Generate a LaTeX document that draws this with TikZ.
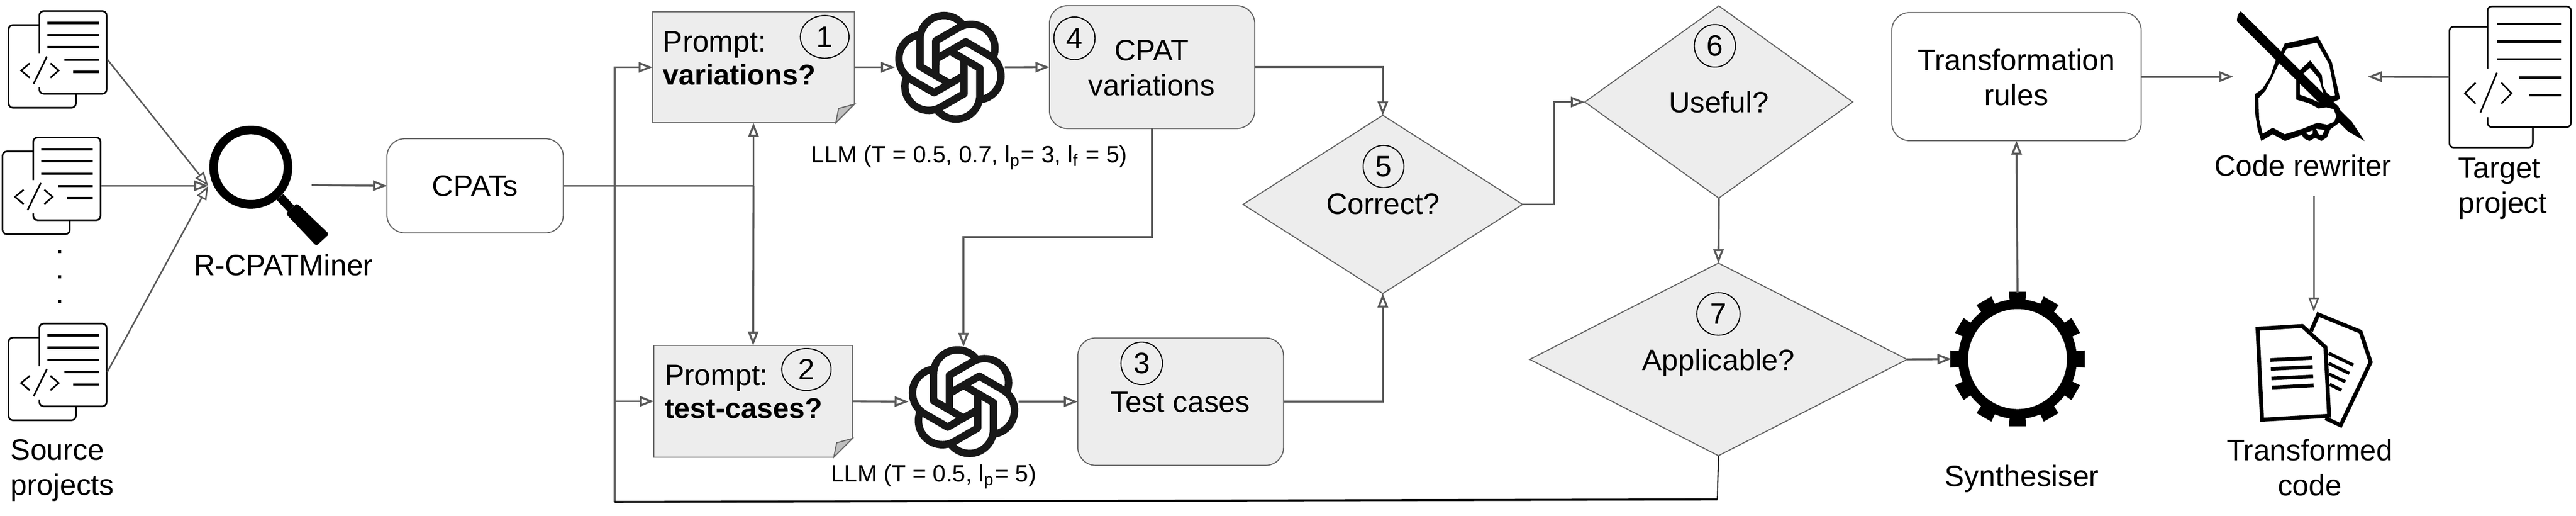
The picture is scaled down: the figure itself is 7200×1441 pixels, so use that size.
\documentclass[tikz,border=0pt]{standalone}
\usepackage{fontspec}
\setmainfont{Liberation Sans}
\usetikzlibrary{calc,arrows.meta,shapes.geometric}

\definecolor{flowgray}{HTML}{595959}
\definecolor{edgegray}{HTML}{666666}
\definecolor{boxgray}{HTML}{EDEDED}
\definecolor{foldgray}{HTML}{BFBFBF}
\definecolor{logoblack}{HTML}{181818}

\newcommand{\promptbold}[1]{{\fontsize{8}{9.7}\selectfont\bfseries #1}}

\tikzset{
  every node/.style={font=\fontsize{8.25}{9.8}\selectfont},
  >={Triangle[fill=white,length=3.9pt,width=2.9pt]},
  flowline/.style={draw=flowgray,line width=0.55pt},
  thinflow/.style={draw=flowgray,line width=0.42pt},
  iconbox/.style={inner sep=0pt,outer sep=0pt},
  lbl/.style={anchor=base,inner sep=0pt,outer sep=0pt,align=center},
  lblleft/.style={anchor=base west,inner sep=0pt,outer sep=0pt,align=left},
  llmlabel/.style={lbl,font=\fontsize{6.6}{8}\selectfont},
  roundbox/.style={rectangle,rounded corners=5pt,draw=edgegray,line width=0.3pt,inner sep=0pt,outer sep=0pt},
  greybox/.style={roundbox,fill=boxgray},
  question/.style={diamond,draw=edgegray,fill=boxgray,line width=0.3pt,inner sep=0pt,outer sep=0pt},
  stepnum/.style={ellipse,draw=black,line width=0.3pt,inner sep=0pt,outer sep=0pt},
  pics/docicon/.style={code={
    \draw[line width=0.45pt,rounded corners=1.2pt] (-51,-96) -- (-137,-96) -- (-137,135) -- (51,135) -- (51,96);
    \draw[line width=0.45pt,rounded corners=1.2pt] (-51,-16) -- (-51,-135) -- (137,-135) -- (137,96) -- (-51,96) -- (-51,77);
    \foreach \y/\x in {-102/-29,-68/-29,-34/-29,1/19,35/43}
      \draw[line width=0.65pt] (\x,\y) -- (115,\y);
    \draw[line width=0.45pt] (-78,11) -- (-102,31) -- (-78,51);
    \draw[line width=0.45pt] (-20,11) -- (3,31) -- (-20,51);
    \draw[line width=0.45pt] (-30,-8) -- (-67,68);
  }},
  pics/llmlogo/.style={code={
    \begin{scope}[y=0.1pt]
    \foreach \a in {0,60,...,300}
      \draw[logoblack,rotate=\a,line width=2.07pt,line join=round] (0,-45.7) -- (-83.7,2.7) -- (-83.7,77.7) arc[start angle=180,end angle=40,radius=67];
    \end{scope}
  }},
  pics/gearicon/.style={code={
    \draw[line width=2.75pt] (0,0) circle[x radius=15.2pt,y radius=15.35pt];
    \foreach \a in {0,30,...,330}
      \fill[rotate=\a] (-21,150) -- (-24,188) -- (24,188) -- (21,150) -- cycle;
  }}
}

\begin{document}
\begin{tikzpicture}[x=0.1pt,y=-0.1pt]
\useasboundingbox (0,0) rectangle (7200,1441);

% source projects
\node[iconbox,minimum width=27.8pt,minimum height=27.4pt] (src1) at (161,166) {};
\node[iconbox,minimum width=27.8pt,minimum height=27.4pt] (src2) at (144,519) {};
\node[iconbox,minimum width=27.8pt,minimum height=27.4pt] (src3) at (161,1039) {};
\foreach \n in {src1,src2,src3}
  \pic at (\n) {docicon};
\foreach \n/\y in {dota/708,dotb/779,dotc/848}
  \node[lbl] (\n) at (168,\y) {.};
\node[lblleft] (srclabel) at (30,1383) {Source\\projects};

% miner
\node[iconbox,circle,draw,line width=2.4pt,minimum size=20.8pt] (miner) at (701,467) {};
\fill (773,558) -- (792,542) -- (822,575) -- (805,592) -- cycle;
\fill[rounded corners=0.6pt] (799,597) -- (830,568) -- (920,654) -- (884,687) -- cycle;
\node[lbl] (minerlabel) at (792,770) {R-CPATMiner};
\coordinate (minerin) at (582,519);
\coordinate (minerout) at (871,517);

\node[roundbox,minimum width=49.3pt,minimum height=26.3pt] (cpats) at (1328,519) {CPATs};

% prompts
\node[iconbox,minimum width=56.4pt,minimum height=31pt] (prompt1) at (2106,188) {};
\node[iconbox,minimum width=55.5pt,minimum height=31.2pt] (prompt2) at (2105,1121) {};
\foreach \n in {prompt1,prompt2} {
  \draw[draw=edgegray,fill=boxgray,line width=0.3pt] (\n.north west) -- (\n.north east) -- ($(\n.south east)+(0,-52)$) -- ($(\n.south east)+(-52,0)$) -- (\n.south west) -- cycle;
  \draw[draw=edgegray,fill=foldgray,line width=0.3pt] ($(\n.south east)+(0,-52)$) -- ($(\n.south east)+(-44,-40)$) -- ($(\n.south east)+(-52,0)$) -- cycle;
}
\node[lblleft] (prompt1text) at (1853,237) {Prompt:\\[-0.5pt]\promptbold{variations?}};
\node[lblleft] (prompt2text) at (1858,1169) {Prompt:\\[-0.6pt]\promptbold{test-cases?}};
\node[stepnum,minimum width=13.6pt,minimum height=11.9pt] (step1) at (2305,103) {1};
\node[stepnum,minimum width=13.8pt,minimum height=11.7pt] (step2) at (2254,1032) {2};

% llm
\node[iconbox,minimum size=30.7pt] (llm1) at (2655,188) {};
\node[iconbox,minimum size=30.7pt] (llm2) at (2693,1122) {};
\pic at (llm1) {llmlogo};
\pic at (llm2) {llmlogo};
\node[llmlabel] (llm1label) at (2709,455) {LLM (T = 0.5, 0.7, l\textsubscript{p}= 3, l\textsubscript{f} = 5)};
\node[llmlabel] (llm2label) at (2610,1346) {LLM (T = 0.5, l\textsubscript{p}= 5)};

% results
\node[greybox,minimum width=57.4pt,minimum height=34.3pt] (variations) at (3220,187.5) {};
\node[lbl] (variationstext) at (3219,267) {CPAT\\variations};
\node[stepnum,minimum width=11.5pt,minimum height=11.9pt] (step4) at (3003,107) {4};
\node[greybox,minimum width=57.5pt,minimum height=35.6pt] (testcases) at (3300,1122) {};
\node[lbl] (testcasestext) at (3299,1151) {Test cases};
\node[stepnum,minimum width=11.6pt,minimum height=11.9pt] (step3) at (3191,1015) {3};

% decisions
\node[question,minimum width=78.1pt,minimum height=49.8pt] (correct) at (3865,571) {};
\node[lbl] (correcttext) at (3865,599) {Correct?};
\node[stepnum,minimum width=11.4pt,minimum height=11.8pt] (step5) at (3867,465) {5};
\node[question,minimum width=74.9pt,minimum height=53.7pt] (useful) at (4804,285) {};
\node[lbl] (usefultext) at (4804,314) {Useful?};
\node[stepnum,minimum width=11.5pt,minimum height=11.9pt] (step6) at (4793,128) {6};
\node[question,minimum width=105.5pt,minimum height=53.8pt] (applicable) at (4803,1004) {};
\node[lbl] (applicabletext) at (4803,1034) {Applicable?};
\node[stepnum,minimum width=12.1pt,minimum height=11.9pt] (step7) at (4803,877) {7};

% synthesiser
\node[iconbox,circle,minimum size=37pt] (synth) at (5639,1003) {};
\pic at (synth) {gearicon};
\node[lbl] (synthlabel) at (5651,1358) {Synthesiser};
\node[roundbox,minimum width=69.7pt,minimum height=35.8pt] (rules) at (5636,214) {};
\node[lbl] (rulestext) at (5636,294) {Transformation\\rules};

% rewriter
\node[iconbox,minimum width=37.6pt,minimum height=36.1pt] (rewriter) at (6430,214) {};
\begin{scope}[shift={(6100,0)},x=0.04464pt,y=-0.03333pt]
\fill (365,95) .. controls (345,115) and (340,150) .. (342,180) -- (1035,1100) -- (1140,1182) -- (1060,1020) -- cycle;
\fill (640,365) -- (848,305) -- (935,520) -- (987,830) -- (945,855) -- (975,890) -- (985,915) -- (980,1030) -- (925,1085) -- (905,1150) -- (870,1182) -- (830,1155) -- (795,1182) -- (760,1160) -- (748,1130) -- (642,1182) -- (565,1125) -- (493,1182) -- (470,1080) -- (455,950) -- (453,790) -- (500,745) -- (550,640) -- (585,500) -- (620,425) -- cycle;
\fill[white] (475,825) -- (520,760) -- (555,670) -- (605,530) -- (712,671) -- (712,835) -- (790,865) -- (852,910) -- (900,900) -- (945,915) -- (963,970) -- (950,1020) -- (905,1045) -- (845,1028) -- (750,1080) -- (640,1125) -- (565,1070) -- (502,1120) -- (480,1000) -- cycle;
\fill[white] (652,410) -- (840,358) -- (918,540) -- (955,800) -- (930,805) -- (905,780) -- (880,720) -- (873,630) -- (800,505) -- (735,587) -- (635,454) -- cycle;
\fill[white] (798,570) -- (855,660) -- (882,783) -- (757,617) -- cycle;
\fill[white] (735,702) -- (735,793) -- (800,825) -- (852,857) -- cycle;
\fill[white] (772,1115) -- (815,1092) -- (815,1120) -- (795,1133) -- cycle;
\fill[white] (837,1080) -- (890,1090) -- (875,1130) -- (855,1130) -- cycle;
\end{scope}
\node[lbl] (rewriterlabel) at (6437,492) {Code rewriter};
\coordinate (rewriterout) at (6467,547);

% target
\node[iconbox,minimum width=34.2pt,minimum height=39.8pt] (target) at (7016,215) {};
\pic[xscale=1.24,yscale=1.46] at (target) {docicon};
\node[lblleft] (targetlabel) at (6871,595) {Target\\project};

% transformed
\node[iconbox,minimum width=32.9pt,minimum height=32.5pt] (transformed) at (6467,1033) {};
\begin{scope}[shift={(6100,850)},x=0.04464pt,y=-0.03333pt]
\draw[line width=1.1pt] (805,225) -- (850,85) -- (1115,230) -- (1178,485) -- (990,1015) -- (895,955);
\foreach \xa/\ya/\xb/\yb in {915/410/1070/510,915/495/1045/580,918/585/1020/650,922/672/995/720}
  \draw[line width=0.9pt] (\xa,\ya) -- (\xb,\yb);
\draw[line width=1.1pt,fill=white] (470,205) -- (750,182) -- (895,360) -- (918,935) -- (498,968) -- cycle;
\foreach \xa/\ya/\xb/\yb in {550/467/812/450,553/542/815/525,557/622/818/605,560/698/821/680}
  \draw[line width=1pt] (\xa,\ya) -- (\xb,\yb);
\end{scope}
\node[lbl] (transformedlabel) at (6456,1385) {Transformed\\code};

% connectors
\draw[thinflow,->] (src1.east) -- (minerin);
\draw[flowline,->] (src2.east) -- (minerin);
\draw[thinflow,->] (src3.east) -- (minerin);
\draw[flowline,->] (minerout) -- (cpats.west);
\coordinate (jct) at (2106,519);
\coordinate (busbot) at (1718,1402);
\coordinate (loopend) at (4800,1395);
\draw[flowline] (cpats.east) -- (jct);
\draw[flowline,->] (jct) -- (prompt1.south);
\draw[flowline,->] (jct) -- (prompt2.north);
\draw[flowline,->] (busbot) |- (prompt1.west);
\draw[flowline,->] (busbot |- prompt2.west) -- (prompt2.west);
\draw[line width=0.55pt] (busbot) -- (loopend);
\draw[line width=0.3pt] (loopend) -- (applicable.south);
\draw[flowline,->] (prompt1.east) -- (llm1.west);
\draw[flowline,->] (llm1.east) -- (variations.west);
\draw[flowline,->] (prompt2.east) -- (llm2.west);
\draw[flowline,->] (llm2.east) -- (testcases.west);
\draw[flowline,->] (variations.south) -- ++(0,303) -| (llm2.north);
\draw[flowline,->] (variations.east) -| (correct.north);
\draw[flowline,->] (testcases.east) -| (correct.south);
\draw[flowline,->] (correct.east) -- ++(87,0) |- (useful.west);
\draw[flowline,->] (useful.south) -- (applicable.north);
\draw[flowline,->] (applicable.east) -- (synth.west);
\draw[flowline,->] (synth.north) -- (rules.south);
\draw[flowline,->] (rules.east) -- (rewriter.west);
\draw[flowline,->] (target.west) -- (rewriter.east);
\draw[thinflow,->] (rewriterout) -- (transformed.north);

\end{tikzpicture}
\end{document}
